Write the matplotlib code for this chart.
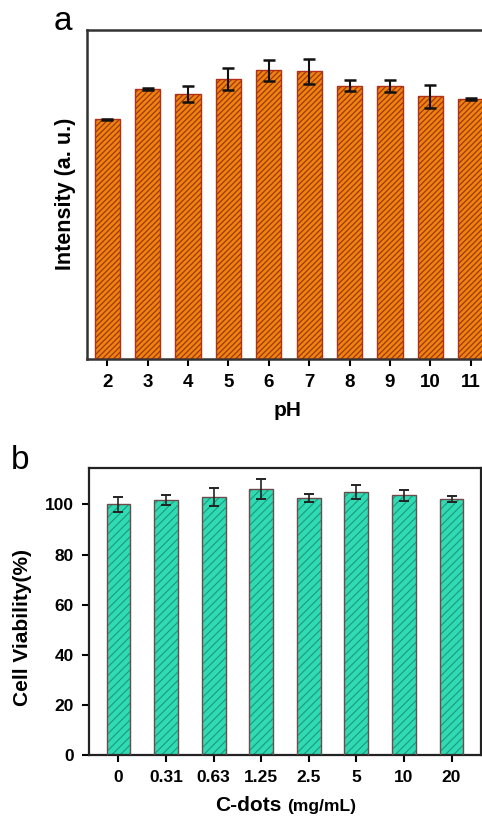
import matplotlib
matplotlib.use("Agg")
import matplotlib.pyplot as plt
import numpy as np

plt.rcParams['font.family'] = ['Liberation Sans', 'DejaVu Sans']
plt.rcParams['hatch.linewidth'] = 0.9

# Panel a data
ph = [2, 3, 4, 5, 6, 7, 8, 9, 10, 11]
intensity = [72.9, 82.1, 80.5, 85.2, 87.7, 87.4, 83.1, 83.1, 79.8, 79.1]
intensity_err = [0.15, 0.35, 2.4, 3.3, 3.1, 3.7, 1.6, 1.8, 3.6, 0.35]

# Panel b data
conc_labels = ['0', '0.31', '0.63', '1.25', '2.5', '5', '10', '20']
viability = [100.0, 101.7, 103.0, 106.0, 102.5, 104.9, 103.6, 102.1]
viability_err = [3.1, 2.0, 3.7, 4.0, 1.7, 2.9, 2.1, 1.3]

W, H = 482, 817
fig = plt.figure(figsize=(W / 100, H / 100), dpi=100)

# ---- Panel a ----
axa = fig.add_axes([87 / W, 1 - 359 / H, 404 / W, (359 - 30) / H])
axa.bar(ph, intensity, width=0.62, color='#F2820F', edgecolor='#9A3A10',
        hatch='//////', linewidth=0, zorder=2)
axa.bar(ph, intensity, width=0.62, color='none', edgecolor='#B0301A',
        linewidth=1.0, zorder=3)
axa.errorbar(ph, intensity, yerr=intensity_err, fmt='none', ecolor='#111111',
             elinewidth=1.5, capsize=4.5, capthick=1.8, zorder=4)
axa.set_xlim(1.5, 11.5)
axa.set_ylim(0, 100)
axa.set_xticks(ph)
axa.set_xticklabels([str(p) for p in ph], fontsize=13.5, fontweight='bold')
axa.set_yticks([])
axa.tick_params(axis='x', direction='out', length=5, width=1.5, pad=6)
for s in ['left', 'top', 'bottom']:
    axa.spines[s].set_linewidth(1.8)
    axa.spines[s].set_color('#333333')
axa.spines['right'].set_visible(False)

fig.text(66 / W, 1 - 194 / H, 'Intensity (a. u.)', rotation=90, ha='center',
         va='center', fontsize=15.5, fontweight='bold')
fig.text(288 / W, 1 - 410 / H, 'pH', ha='center', va='center', fontsize=15,
         fontweight='bold')
fig.text(63 / W, 1 - 22 / H, 'a', ha='center', va='center', fontsize=24)

# ---- Panel b ----
axb = fig.add_axes([89 / W, 1 - 755 / H, (481 - 89) / W, (755 - 468.3) / H])
xb = np.arange(len(conc_labels))
axb.bar(xb, viability, width=0.5, color='#30DBB4', edgecolor='#1E9E82',
        hatch='////', linewidth=0, zorder=2)
axb.bar(xb, viability, width=0.5, color='none', edgecolor='#6E4A4A',
        linewidth=1.0, zorder=3)
axb.errorbar(xb, viability, yerr=viability_err, fmt='none', ecolor='#222222',
             elinewidth=1.2, capsize=3.6, capthick=1.4, zorder=4)
axb.set_xlim(-0.62, 7.62)
axb.set_ylim(0, 114.4)
axb.set_xticks(xb)
axb.set_xticklabels(conc_labels, fontsize=12.5, fontweight='bold')
axb.set_yticks([0, 20, 40, 60, 80, 100])
axb.set_yticklabels(['0', '20', '40', '60', '80', '100'], fontsize=12.5,
                    fontweight='bold')
axb.tick_params(axis='both', direction='out', length=5, width=1.5, pad=6)
for s in ['left', 'top', 'bottom', 'right']:
    axb.spines[s].set_linewidth(1.6)
    axb.spines[s].set_color('#222222')

fig.text(23 / W, 1 - 628 / H, 'Cell Viability(%)', rotation=90, ha='center',
         va='center', fontsize=15, fontweight='bold')
fig.text(20 / W, 1 - 461 / H, 'b', ha='center', va='center', fontsize=24)
fig.text(282 / W, 1 - 811 / H, 'C-dots', ha='right', va='baseline',
         fontsize=15, fontweight='bold')
fig.text(287 / W, 1 - 811 / H, '(mg/mL)', ha='left', va='baseline',
         fontsize=12.5, fontweight='bold')

fig.savefig('out.png', dpi=100)
